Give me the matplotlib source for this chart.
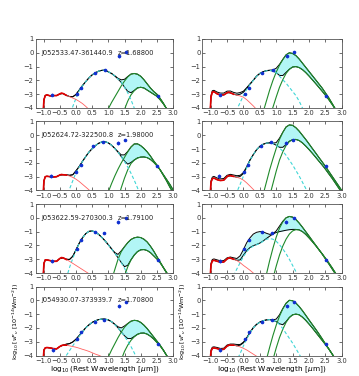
import numpy as np
import matplotlib
matplotlib.use("Agg")
import matplotlib.pyplot as plt

# ---- data (4 objects, left/right fit for each) ----
names = ['J052533.47-361440.9', 'J052624.72-322500.8',
         'J053622.59-270300.3', 'J054930.07-373939.7']
redshifts = ['1.68800', '1.98000', '1.79100', '1.70800']

# observed photometry, one list per row (same object left and right)
obs_x = [[-0.73, 0.04, 0.16, 0.58, 0.9, 1.32, 1.55, 2.53],
         [-0.76, 0.01, 0.15, 0.54, 0.83, 1.29, 1.51, 2.51],
         [-0.73, 0.02, 0.16, 0.58, 0.88, 1.3, 1.54, 2.52],
         [-0.71, 0.04, 0.17, 0.58, 0.87, 1.33, 1.55, 2.52]]
obs_y = [[-3.04, -2.96, -2.57, -1.44, -1.27, -0.23, 0.05, -3.12],
         [-2.95, -2.64, -2.18, -0.75, -0.48, -0.54, -0.34, -2.22],
         [-3.14, -2.24, -1.6, -1.05, -1.12, -0.31, -0.01, -3.05],
         [-3.6, -2.77, -2.29, -1.57, -1.4, -0.42, -0.14, -3.15]]
obs_err = [0.12, 0.05, 0.05, 0.05, 0.05, 0.15, 0.08, 0.06]

# model grids (log10 rest wavelength)
stel_x = [-1.02, -0.99, -0.95, -0.9, -0.8, -0.7, -0.6, -0.5, -0.45, -0.4, -0.3,
          -0.2, -0.1, 0.0, 0.1, 0.2, 0.3, 0.4, 0.5, 0.6, 0.7, 0.8]
agn_x = np.round(np.arange(-0.3, 2.01, 0.1), 2)
dust_x = np.round(np.arange(0.6, 3.01, 0.1), 2)
tot_x = np.concatenate([[-1.02, -0.99, -0.95], np.round(np.arange(-0.9, 3.01, 0.1), 2)])

# panel order: row1 L, row1 R, row2 L, row2 R, ...
stellar = [
    [-4.5, -3.4, -3.1, -3.05, -3.12, -3.1, -3.1, -2.98, -2.92, -2.95, -3.08, -3.18, -3.28, -3.38, -3.52, -3.68, -3.88, -4.1, -4.3, -4.5, -4.7, -4.9],
    [-4.5, -3.2, -2.85, -2.82, -2.98, -3.05, -3.05, -2.9, -2.85, -2.9, -3.0, -3.08, -3.13, -3.22, -3.4, -3.62, -3.85, -4.1, -4.35, -4.6, -4.85, -5.1],
    [-4.5, -3.3, -3.0, -2.97, -3.0, -3.02, -3.0, -2.88, -2.84, -2.86, -2.88, -2.95, -3.05, -3.18, -3.35, -3.55, -3.75, -3.95, -4.2, -4.45, -4.7, -4.95],
    [-4.5, -3.4, -3.15, -3.1, -3.22, -3.28, -3.25, -3.0, -2.92, -2.93, -2.98, -3.05, -3.12, -3.25, -3.45, -3.68, -3.92, -4.18, -4.45, -4.7, -4.95, -5.2],
    [-4.5, -3.3, -3.05, -3.05, -3.1, -3.15, -3.15, -2.95, -2.88, -2.9, -3.02, -3.15, -3.3, -3.45, -3.6, -3.75, -3.9, -4.05, -4.2, -4.35, -4.5, -4.65],
    [-4.5, -3.4, -3.12, -3.08, -3.15, -3.22, -3.2, -2.98, -2.9, -2.92, -3.0, -3.1, -3.25, -3.45, -3.62, -3.8, -4.0, -4.2, -4.4, -4.6, -4.8, -5.0],
    [-4.5, -3.6, -3.45, -3.42, -3.45, -3.5, -3.52, -3.35, -3.28, -3.25, -3.25, -3.3, -3.35, -3.4, -3.47, -3.55, -3.62, -3.7, -3.8, -3.9, -3.98, -4.08],
    [-4.5, -3.7, -3.48, -3.45, -3.5, -3.57, -3.55, -3.32, -3.25, -3.25, -3.25, -3.3, -3.38, -3.48, -3.6, -3.75, -3.9, -4.05, -4.2, -4.35, -4.5, -4.65],
]

agn = [
    [-5.5, -4.6, -3.9, -3.3, -2.75, -2.4, -2.1, -1.82, -1.6, -1.45, -1.33, -1.27, -1.26, -1.38, -1.5, -1.68, -1.9, -2.15, -2.5, -2.9, -3.4, -4.0, -4.6, -5.2],
    [-4.6, -4.1, -3.6, -3.1, -2.65, -2.3, -2.0, -1.7, -1.5, -1.38, -1.3, -1.28, -1.32, -1.45, -1.7, -1.95, -2.2, -2.5, -2.8, -3.1, -3.5, -4.0, -4.5, -5.1],
    [-4.6, -3.9, -3.3, -2.7, -2.3, -1.9, -1.55, -1.22, -0.97, -0.75, -0.58, -0.48, -0.46, -0.55, -0.72, -0.95, -1.22, -1.55, -1.9, -2.3, -2.75, -3.25, -3.8, -4.4],
    [-4.7, -4.1, -3.55, -2.95, -2.35, -1.8, -1.4, -1.05, -0.8, -0.65, -0.57, -0.55, -0.6, -0.73, -0.92, -1.15, -1.45, -1.8, -2.15, -2.55, -2.95, -3.4, -3.85, -4.35],
    [-4.4, -3.6, -2.95, -2.35, -1.85, -1.45, -1.15, -0.98, -0.95, -1.03, -1.2, -1.42, -1.67, -1.95, -2.25, -2.55, -2.9, -3.25, -3.65, -4.1, -4.6, -5.2, -5.8, -6.5],
    [-4.2, -3.7, -3.25, -2.8, -2.45, -2.2, -2.05, -1.95, -1.85, -1.7, -1.55, -1.5, -1.55, -1.7, -1.95, -2.25, -2.6, -3.0, -3.45, -3.9, -4.4, -4.9, -5.4, -6.0],
    [-4.0, -3.65, -3.3, -2.95, -2.6, -2.3, -2.0, -1.78, -1.6, -1.48, -1.4, -1.36, -1.36, -1.42, -1.55, -1.75, -2.0, -2.3, -2.6, -2.95, -3.35, -3.8, -4.3, -4.8],
    [-4.9, -4.35, -3.85, -3.3, -2.8, -2.35, -2.0, -1.75, -1.58, -1.48, -1.42, -1.4, -1.45, -1.55, -1.75, -2.05, -2.4, -2.75, -3.1, -3.5, -3.9, -4.3, -4.8, -5.3],
]

dust_hi = [
    [-6.0, -5.5, -5.0, -4.5, -4.05, -3.6, -3.2, -2.8, -2.4, -2.05, -1.75, -1.55, -1.5, -1.55, -1.7, -1.95, -2.25, -2.55, -2.8, -3.0, -3.3, -3.65, -4.05, -4.45, -4.85],
    [-4.3, -3.5, -2.7, -2.0, -1.4, -0.9, -0.5, -0.15, 0.0, -0.05, -0.2, -0.45, -0.75, -1.05, -1.35, -1.65, -1.95, -2.25, -2.55, -2.9, -3.25, -3.65, -4.05, -4.45, -4.9],
    [-7.0, -6.2, -5.4, -4.7, -4.1, -3.5, -2.95, -2.45, -2.0, -1.6, -1.2, -0.85, -0.63, -0.62, -0.75, -0.95, -1.2, -1.5, -1.85, -2.15, -2.5, -2.9, -3.3, -3.75, -4.15],
    [-4.3, -3.4, -2.5, -1.7, -0.95, -0.3, 0.2, 0.6, 0.75, 0.72, 0.55, 0.3, 0.0, -0.3, -0.62, -0.95, -1.27, -1.6, -1.92, -2.25, -2.6, -2.95, -3.3, -3.65, -4.0],
    [-8.0, -7.4, -6.7, -5.9, -5.2, -4.5, -3.75, -3.0, -2.45, -2.1, -1.8, -1.57, -1.45, -1.4, -1.43, -1.55, -1.75, -2.05, -2.4, -2.8, -3.2, -3.6, -4.0, -4.4, -4.8],
    [-5.0, -4.1, -3.1, -2.2, -1.4, -0.75, -0.3, 0.0, 0.1, 0.05, -0.12, -0.38, -0.68, -1.0, -1.32, -1.65, -1.97, -2.3, -2.62, -2.97, -3.32, -3.68, -4.05, -4.45, -4.85],
    [-6.1, -5.6, -5.1, -4.6, -4.1, -3.6, -3.15, -2.7, -2.3, -1.95, -1.7, -1.52, -1.45, -1.48, -1.6, -1.8, -2.05, -2.35, -2.65, -2.95, -3.25, -3.6, -4.0, -4.4, -4.8],
    [-5.2, -4.3, -3.4, -2.55, -1.8, -1.15, -0.62, -0.22, 0.0, -0.03, -0.2, -0.45, -0.75, -1.08, -1.42, -1.75, -2.08, -2.42, -2.78, -3.15, -3.5, -3.88, -4.25, -4.65, -5.05],
]

dust_lo = [
    [-9.0, -8.5, -8.0, -7.5, -7.0, -6.5, -6.0, -5.5, -4.8, -4.1, -3.5, -3.05, -2.75, -2.55, -2.5, -2.55, -2.7, -2.85, -3.0, -3.15, -3.4, -3.7, -4.05, -4.45, -4.85],
    [-6.0, -5.3, -4.6, -3.95, -3.2, -2.5, -1.95, -1.5, -1.2, -1.03, -1.0, -1.07, -1.22, -1.43, -1.68, -1.95, -2.22, -2.5, -2.78, -3.07, -3.38, -3.72, -4.08, -4.45, -4.85],
    [-9.0, -8.4, -7.8, -7.2, -6.6, -6.0, -5.4, -4.6, -3.8, -3.1, -2.5, -2.05, -1.8, -1.65, -1.58, -1.57, -1.62, -1.75, -1.95, -2.2, -2.5, -2.85, -3.2, -3.55, -3.95],
    [-6.0, -5.2, -4.4, -3.5, -2.6, -1.8, -1.2, -0.75, -0.45, -0.32, -0.3, -0.38, -0.55, -0.78, -1.03, -1.3, -1.58, -1.87, -2.15, -2.45, -2.78, -3.1, -3.45, -3.8, -4.15],
    [-10.0, -9.4, -8.8, -8.2, -7.6, -7.0, -6.4, -5.7, -5.0, -4.2, -3.55, -3.05, -2.7, -2.45, -2.32, -2.3, -2.37, -2.52, -2.75, -2.98, -3.25, -3.6, -3.95, -4.35, -4.75],
    [-7.0, -6.2, -5.5, -4.4, -3.5, -2.7, -2.05, -1.55, -1.18, -0.95, -0.86, -0.88, -1.0, -1.2, -1.45, -1.72, -2.0, -2.3, -2.6, -2.92, -3.25, -3.6, -3.97, -4.35, -4.75],
    [-9.0, -8.4, -7.8, -7.2, -6.6, -6.0, -5.5, -5.0, -4.3, -3.7, -3.25, -2.9, -2.65, -2.47, -2.38, -2.37, -2.45, -2.6, -2.8, -3.05, -3.3, -3.62, -3.98, -4.35, -4.75],
    [-7.0, -6.1, -5.2, -4.3, -3.45, -2.7, -2.1, -1.6, -1.25, -1.05, -1.0, -1.05, -1.22, -1.45, -1.72, -2.0, -2.3, -2.6, -2.9, -3.2, -3.52, -3.86, -4.22, -4.6, -5.0],
]

total_hi = [
    [-4.5, -3.4, -3.1,
     -3.05, -3.12, -3.1, -3.1, -2.98, -2.95, -3.08, -3.17, -3.19, -3.02,
     -2.7, -2.38, -2.09, -1.82, -1.6, -1.45, -1.33, -1.27, -1.26, -1.38,
     -1.5, -1.67, -1.85, -1.96, -1.92, -1.72, -1.54, -1.5, -1.55, -1.7,
     -1.95, -2.25, -2.55, -2.8, -3.0, -3.3, -3.65, -4.05, -4.45, -4.85],
    [-4.5, -3.1, -2.75,
     -2.72, -2.85, -2.92, -2.92, -2.78, -2.77, -2.87, -2.93, -2.88, -2.78,
     -2.53, -2.25, -1.98, -1.69, -1.49, -1.37, -1.29, -1.26, -1.24, -1.12,
     -0.84, -0.48, -0.15, 0.0, -0.05, -0.2, -0.45, -0.75, -1.05, -1.35,
     -1.65, -1.95, -2.25, -2.55, -2.9, -3.25, -3.65, -4.05, -4.45, -4.9],
    [-4.5, -3.3, -3.0,
     -2.97, -3.0, -3.02, -3.0, -2.88, -2.86, -2.87, -2.9, -2.86, -2.58,
     -2.26, -1.89, -1.55, -1.22, -0.97, -0.75, -0.58, -0.48, -0.46, -0.55,
     -0.72, -0.95, -1.2, -1.42, -1.42, -1.17, -0.85, -0.63, -0.62, -0.75,
     -0.95, -1.2, -1.5, -1.85, -2.15, -2.5, -2.9, -3.3, -3.75, -4.15],
    [-4.5, -3.3, -3.03,
     -2.98, -3.1, -3.16, -3.13, -2.9, -2.83, -2.88, -2.93, -2.9, -2.7,
     -2.27, -1.78, -1.4, -1.05, -0.8, -0.65, -0.57, -0.54, -0.57, -0.53,
     -0.21, 0.22, 0.6, 0.75, 0.72, 0.55, 0.3, 0.0, -0.3, -0.62,
     -0.95, -1.27, -1.6, -1.92, -2.25, -2.6, -2.95, -3.3, -3.65, -4.0],
    [-4.5, -3.3, -3.05,
     -3.05, -3.1, -3.15, -3.15, -2.95, -2.9, -3.0, -3.02, -2.79, -2.32,
     -1.84, -1.45, -1.15, -0.98, -0.95, -1.03, -1.2, -1.42, -1.67, -1.95,
     -2.25, -2.52, -2.65, -2.39, -2.09, -1.8, -1.57, -1.45, -1.4, -1.43,
     -1.55, -1.75, -2.05, -2.4, -2.8, -3.2, -3.6, -4.0, -4.4, -4.8],
    [-4.5, -3.3, -3.02,
     -2.98, -3.05, -3.12, -3.1, -2.9, -2.84, -2.9, -2.95, -2.75, -2.3,
     -1.8, -1.45, -1.18, -1.05, -1.0, -1.02, -1.12, -1.2, -1.15, -0.95,
     -0.6, -0.25, 0.0, 0.1, 0.05, -0.12, -0.38, -0.68, -1.0, -1.32,
     -1.65, -1.97, -2.3, -2.62, -2.97, -3.32, -3.68, -4.05, -4.45, -4.85],
    [-4.5, -3.6, -3.45,
     -3.42, -3.45, -3.5, -3.52, -3.35, -3.25, -3.18, -3.14, -3.02, -2.82,
     -2.55, -2.28, -1.99, -1.78, -1.6, -1.48, -1.4, -1.36, -1.36, -1.42,
     -1.55, -1.73, -1.92, -2.0, -1.86, -1.68, -1.51, -1.45, -1.48, -1.6,
     -1.8, -2.05, -2.35, -2.65, -2.95, -3.25, -3.6, -4.0, -4.4, -4.8],
    [-4.5, -3.6, -3.4,
     -3.37, -3.42, -3.49, -3.47, -3.24, -3.17, -3.17, -3.2, -3.2, -3.03,
     -2.71, -2.31, -1.98, -1.74, -1.58, -1.48, -1.42, -1.39, -1.42, -1.36,
     -1.05, -0.6, -0.21, 0.0, -0.03, -0.2, -0.45, -0.75, -1.08, -1.42,
     -1.75, -2.08, -2.42, -2.78, -3.15, -3.5, -3.88, -4.25, -4.65, -5.05],
]

total_lo = [
    [-4.5, -3.4, -3.1,
     -3.05, -3.12, -3.1, -3.1, -2.98, -2.95, -3.08, -3.17, -3.19, -3.02,
     -2.7, -2.38, -2.09, -1.82, -1.6, -1.45, -1.33, -1.27, -1.26, -1.38,
     -1.5, -1.68, -1.9, -2.15, -2.49, -2.8, -2.89, -2.73, -2.54, -2.5,
     -2.55, -2.7, -2.85, -3.0, -3.15, -3.4, -3.7, -4.05, -4.45, -4.85],
    [-4.5, -3.2, -2.85,
     -2.82, -2.98, -3.05, -3.05, -2.9, -2.9, -3.0, -3.06, -3.0, -2.86,
     -2.58, -2.28, -2.0, -1.7, -1.5, -1.38, -1.3, -1.28, -1.32, -1.44,
     -1.64, -1.65, -1.42, -1.19, -1.03, -1.0, -1.07, -1.22, -1.43, -1.68,
     -1.95, -2.22, -2.5, -2.78, -3.07, -3.38, -3.72, -4.08, -4.45, -4.85],
    [-4.5, -3.3, -3.0,
     -2.97, -3.0, -3.02, -3.0, -2.88, -2.86, -2.87, -2.9, -2.86, -2.58,
     -2.26, -1.89, -1.55, -1.22, -0.97, -0.75, -0.58, -0.48, -0.46, -0.55,
     -0.72, -0.95, -1.22, -1.55, -1.87, -2.09, -1.97, -1.79, -1.64, -1.58,
     -1.57, -1.62, -1.75, -1.95, -2.2, -2.5, -2.85, -3.2, -3.55, -3.95],
    [-4.5, -3.4, -3.15,
     -3.1, -3.22, -3.28, -3.25, -3.0, -2.93, -2.98, -3.04, -2.98, -2.77,
     -2.32, -1.8, -1.4, -1.05, -0.8, -0.65, -0.57, -0.55, -0.6, -0.72,
     -0.87, -0.87, -0.67, -0.43, -0.31, -0.3, -0.38, -0.55, -0.78, -1.03,
     -1.3, -1.58, -1.87, -2.15, -2.45, -2.78, -3.1, -3.45, -3.8, -4.15],
    [-4.5, -3.3, -3.05,
     -3.05, -3.1, -3.15, -3.15, -2.95, -2.9, -3.0, -3.02, -2.79, -2.32,
     -1.84, -1.45, -1.15, -0.98, -0.95, -1.03, -1.2, -1.42, -1.67, -1.95,
     -2.25, -2.55, -2.9, -3.24, -3.54, -3.44, -3.04, -2.7, -2.45, -2.32,
     -2.3, -2.37, -2.52, -2.75, -2.98, -3.25, -3.6, -3.95, -4.35, -4.75],
    [-4.5, -3.4, -3.12,
     -3.08, -3.15, -3.22, -3.2, -2.98, -2.92, -3.0, -3.08, -3.05, -2.7,
     -2.38, -2.15, -2.02, -1.93, -1.83, -1.68, -1.5, -1.33, -1.17, -1.06,
     -1.0, -0.95, -0.9, -0.86, -0.84, -0.84, -0.87, -1.0, -1.2, -1.45,
     -1.72, -2.0, -2.3, -2.6, -2.92, -3.25, -3.6, -3.97, -4.35, -4.75],
    [-4.5, -3.6, -3.45,
     -3.42, -3.45, -3.5, -3.52, -3.35, -3.25, -3.18, -3.14, -3.02, -2.82,
     -2.55, -2.28, -1.99, -1.78, -1.6, -1.48, -1.4, -1.36, -1.36, -1.42,
     -1.55, -1.75, -2.0, -2.3, -2.57, -2.77, -2.77, -2.62, -2.46, -2.38,
     -2.37, -2.45, -2.6, -2.8, -3.05, -3.3, -3.62, -3.98, -4.35, -4.75],
    [-4.5, -3.7, -3.48,
     -3.45, -3.5, -3.57, -3.55, -3.32, -3.25, -3.25, -3.3, -3.25, -3.08,
     -2.74, -2.33, -1.99, -1.75, -1.58, -1.48, -1.42, -1.4, -1.45, -1.55,
     -1.7, -1.77, -1.54, -1.24, -1.05, -1.0, -1.05, -1.22, -1.45, -1.72,
     -2.0, -2.3, -2.6, -2.9, -3.2, -3.52, -3.86, -4.22, -4.6, -5.0],
]

plt.rcParams['font.family'] = 'DejaVu Sans'
plt.rcParams['mathtext.fontset'] = 'dejavusans'
plt.rcParams['axes.unicode_minus'] = True

fig = plt.figure(figsize=(3.59, 3.76), dpi=100)

col_left = [0.099, 0.564]
col_width = [0.383, 0.388]
row_bottom = [0.7128, 0.4934, 0.2739, 0.0545]
row_height = 0.1835

stel_x = np.array(stel_x)
for i in range(8):
    row, col = i // 2, i % 2
    ax = fig.add_axes([col_left[col], row_bottom[row], col_width[col], row_height])

    ax.fill_between(tot_x, total_lo[i], total_hi[i], color='#b2f6f6', lw=0)
    ax.plot(tot_x, total_hi[i], color='black', lw=0.7)
    ax.plot(tot_x, total_lo[i], color='black', lw=0.7)
    ax.plot(dust_x, dust_hi[i], color='#1f8a2a', lw=0.8)
    ax.plot(dust_x, dust_lo[i], color='#1f8a2a', lw=0.8)
    ax.plot(agn_x, agn[i], color='#3fd6d6', lw=0.8, dashes=(3, 2))
    st = np.array(stellar[i])
    ax.plot(stel_x, st, color='#ff6060', lw=0.6)
    m = stel_x <= -0.28
    ax.plot(stel_x[m], st[m], color='#e00000', lw=1.2)
    ax.errorbar(obs_x[row], obs_y[row], yerr=obs_err, fmt='o', ms=1.6,
                color='#1030d0', ecolor='#7090ff', elinewidth=0.6, capsize=0)

    ax.set_xlim(-1.25, 3.0)
    ax.set_ylim(-4, 1)
    ax.set_xticks(np.arange(-1.0, 3.01, 0.5))
    ax.set_yticks([-4, -3, -2, -1, 0, 1])
    ax.tick_params(direction='in', top=True, right=True, length=2.5, width=0.5,
                   labelsize=4.9, pad=1.5, colors='#333333')
    for sp in ax.spines.values():
        sp.set_linewidth(0.6)
        sp.set_color('#555555')

    if col == 0:
        ax.text(0.04, 0.8, names[row], transform=ax.transAxes, fontsize=4.8,
                va='center', color='#222222')
        ax.text(0.6, 0.8, 'z=' + redshifts[row], transform=ax.transAxes,
                fontsize=4.8, va='center', color='#222222')
    if row == 3:
        ax.set_xlabel(r'$\log_{10}$(Rest Wavelength [$\mu$m])', fontsize=5.3, labelpad=1.0)
        ax.set_ylabel(r'$\log_{10}$[$\nu F_\nu$ [$10^{-14}$Wm$^{-2}$])', fontsize=4.6, labelpad=1.5)

fig.savefig('out.png', dpi=100)
